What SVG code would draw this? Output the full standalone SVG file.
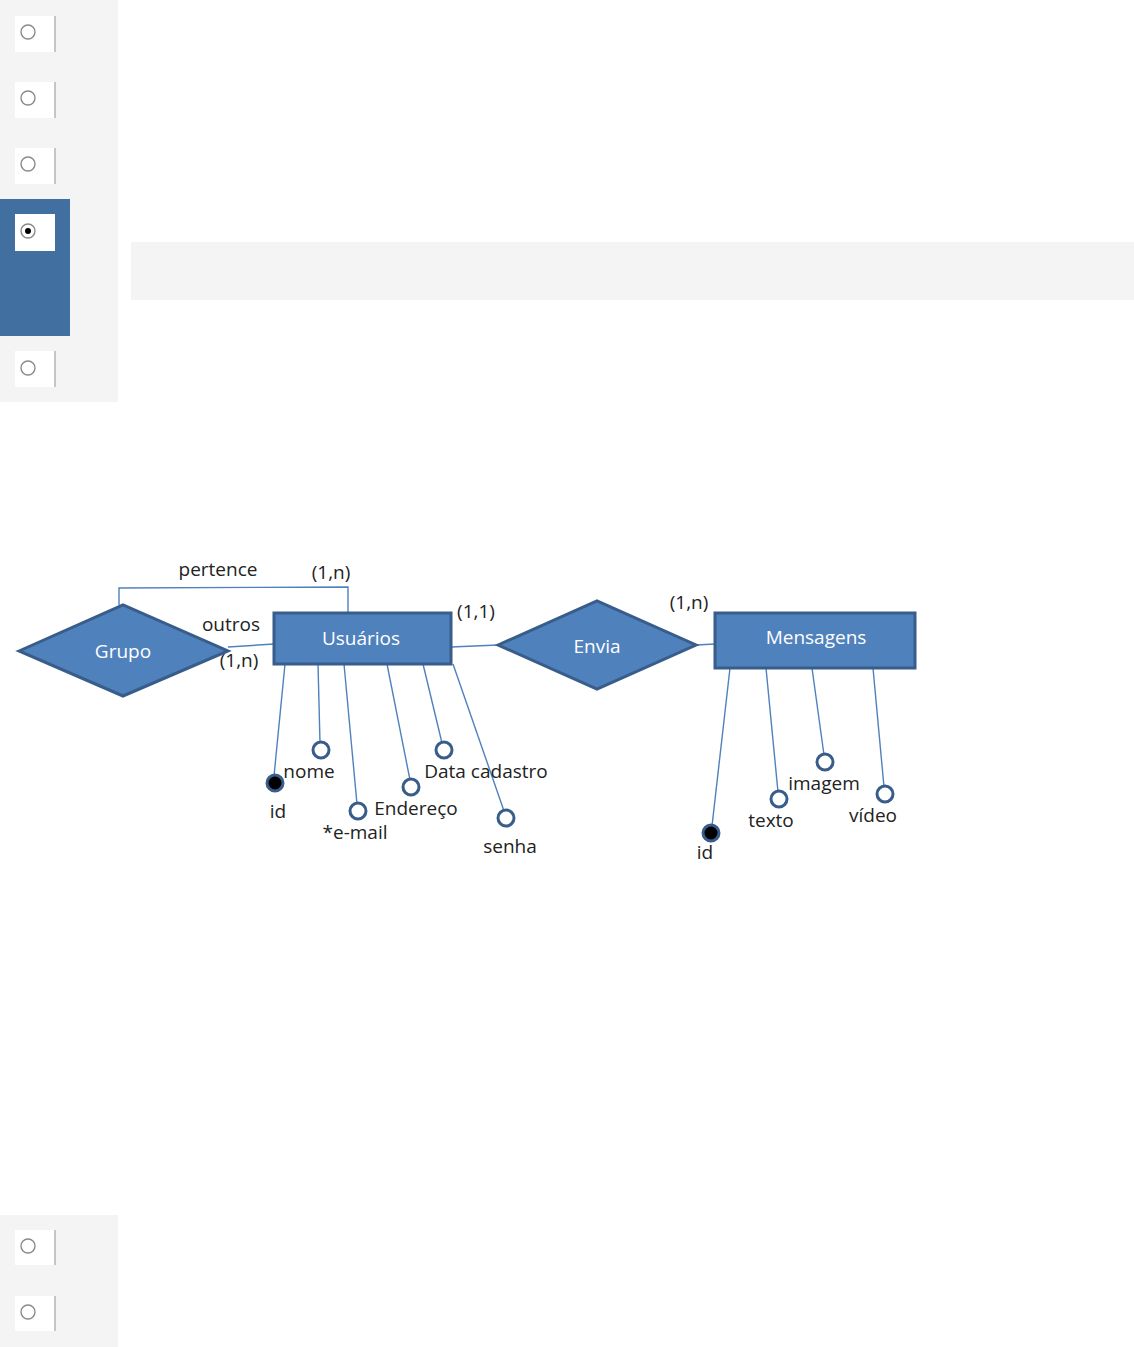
<svg xmlns="http://www.w3.org/2000/svg" width="1134" height="1347" viewBox="0 0 1134 1347">
<defs>
<style>
.panel{fill:#f4f4f4}
.box{fill:#ffffff}
.sep{stroke:#b4b4b4;stroke-width:1.5}
.radio{fill:#ffffff;stroke:#8a8a8a;stroke-width:1.4}
.ent{fill:#4f81bd;stroke:#385d8a;stroke-width:3}
.ln{stroke:#4f81bd;stroke-width:1.4;fill:none}
.att{fill:#ffffff;stroke:#385d8a;stroke-width:3}
.key{fill:#000000;stroke:#385d8a;stroke-width:3}
.w{fill:#ffffff;font-family:"Open Sans","Liberation Sans",sans-serif;font-size:19px;text-anchor:middle}
.t{fill:#222222;font-family:"Open Sans","Liberation Sans",sans-serif;font-size:19px;text-anchor:middle}
</style>
</defs>
<g id="options-top">
<rect class="panel" x="0" y="0" width="118" height="402"/>
<rect x="0" y="199" width="70" height="137" fill="#416f9f"/>
<rect class="box" x="15" y="16" width="40" height="36"/><line class="sep" x1="55" y1="16" x2="55" y2="52"/><circle class="radio" cx="28" cy="32" r="7"/>
<rect class="box" x="15" y="82" width="40" height="36"/><line class="sep" x1="55" y1="82" x2="55" y2="118"/><circle class="radio" cx="28" cy="98" r="7"/>
<rect class="box" x="15" y="148" width="40" height="36"/><line class="sep" x1="55" y1="148" x2="55" y2="184"/><circle class="radio" cx="28" cy="164" r="7"/>
<rect class="box" x="15" y="214" width="40" height="37"/><circle class="radio" cx="28" cy="231" r="7"/><circle cx="28" cy="231" r="3" fill="#000"/>
<rect class="box" x="15" y="351" width="40" height="36"/><line class="sep" x1="55" y1="351" x2="55" y2="387"/><circle class="radio" cx="28" cy="368" r="7"/>
<rect class="panel" x="131" y="242" width="1003" height="58"/>
</g>
<g id="options-bottom">
<rect class="panel" x="0" y="1215" width="118" height="132"/>
<rect class="box" x="15" y="1230" width="40" height="35"/><line class="sep" x1="55" y1="1230" x2="55" y2="1265"/><circle class="radio" cx="28" cy="1246" r="7"/>
<rect class="box" x="15" y="1296" width="40" height="35"/><line class="sep" x1="55" y1="1296" x2="55" y2="1331"/><circle class="radio" cx="28" cy="1312" r="7"/>
</g>
<g id="connectors">
<polyline class="ln" points="119,605 119,588 348,587 348,613"/>
<line class="ln" x1="228" y1="647" x2="274" y2="644"/>
<line class="ln" x1="451" y1="647" x2="498" y2="645"/>
<line class="ln" x1="696" y1="645" x2="715" y2="644"/>
<line class="ln" x1="285" y1="664" x2="274" y2="776"/>
<line class="ln" x1="318" y1="664" x2="320" y2="743"/>
<line class="ln" x1="344" y1="664" x2="357" y2="804"/>
<line class="ln" x1="387" y1="664" x2="410" y2="780"/>
<line class="ln" x1="423" y1="664" x2="442" y2="743"/>
<line class="ln" x1="453" y1="664" x2="504" y2="811"/>
<line class="ln" x1="730" y1="668" x2="712" y2="826"/>
<line class="ln" x1="766" y1="668" x2="778" y2="792"/>
<line class="ln" x1="812" y1="668" x2="824" y2="755"/>
<line class="ln" x1="873" y1="668" x2="884" y2="787"/>
</g>
<g id="labels">
<text class="t" x="218" y="576">pertence</text>
<text class="t" x="331" y="579">(1,n)</text>
<text class="t" x="231" y="631">outros</text>
<text class="t" x="239" y="667">(1,n)</text>
<text class="t" x="476" y="618">(1,1)</text>
<text class="t" x="689" y="609">(1,n)</text>
</g>
<g id="Grupo"><polygon class="ent" points="19,651 123,605 228,651 123,696"/><text class="w" x="123" y="658">Grupo</text></g>
<g id="Usuarios"><rect class="ent" x="274" y="613" width="177" height="51"/><text class="w" x="361" y="645">Usuários</text></g>
<g id="Envia"><polygon class="ent" points="498,645 597,601 696,645 597,689"/><text class="w" x="597" y="653">Envia</text></g>
<g id="Mensagens"><rect class="ent" x="715" y="613" width="200" height="55"/><text class="w" x="816" y="644">Mensagens</text></g>
<g id="u-id"><circle class="key" cx="275" cy="783" r="8"/><text class="t" x="278" y="818">id</text></g>
<g id="u-nome"><circle class="att" cx="321" cy="750" r="8"/><text class="t" x="309" y="778">nome</text></g>
<g id="u-email"><circle class="att" cx="358" cy="811" r="8"/><text class="t" x="355" y="839">*e-mail</text></g>
<g id="u-endereco"><circle class="att" cx="411" cy="787" r="8"/><text class="t" x="416" y="815">Endereço</text></g>
<g id="u-data"><circle class="att" cx="444" cy="750" r="8"/><text class="t" x="486" y="778">Data cadastro</text></g>
<g id="u-senha"><circle class="att" cx="506" cy="818" r="8"/><text class="t" x="510" y="853">senha</text></g>
<g id="m-id"><circle class="key" cx="711" cy="833" r="8"/><text class="t" x="705" y="859">id</text></g>
<g id="m-texto"><circle class="att" cx="779" cy="799" r="8"/><text class="t" x="771" y="827">texto</text></g>
<g id="m-imagem"><circle class="att" cx="825" cy="762" r="8"/><text class="t" x="824" y="790">imagem</text></g>
<g id="m-video"><circle class="att" cx="885" cy="794" r="8"/><text class="t" x="873" y="822">vídeo</text></g>
</svg>
